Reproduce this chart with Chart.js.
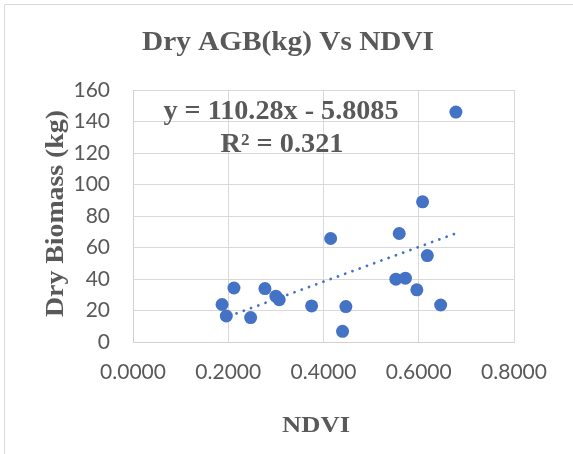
<!DOCTYPE html>
<html>
<head>
<meta charset="utf-8">
<script src="https://cdn.jsdelivr.net/npm/chart.js@4"></script>
<style>
  html, body { margin: 0; padding: 0; background: #ffffff; }
  #wrap { width: 573px; height: 454px; position: relative; }
</style>
</head>
<body>
<div id="wrap"><canvas id="c" width="573" height="454"></canvas></div>
<script>
// ---- data ----
const ndvi = [0.678, 0.608, 0.559, 0.415, 0.618, 0.552, 0.572, 0.596, 0.646, 0.447,
              0.440, 0.375, 0.277, 0.300, 0.307, 0.212, 0.187, 0.196, 0.247];
const dryBiomass = [146.0, 89.0, 68.9, 65.7, 54.9, 39.9, 40.5, 33.1, 23.5, 22.5,
                    6.8, 22.9, 33.9, 29.1, 26.9, 34.3, 23.8, 16.5, 15.5];
const trendSlope = 110.28;
const trendIntercept = -5.8085;
const xTickValues = [0, 0.2, 0.4, 0.6, 0.8];
const xTickLabels = ['0.0000', '0.2000', '0.4000', '0.6000', '0.8000'];
const yTickValues = [0, 20, 40, 60, 80, 100, 120, 140, 160];
const yTickLabels = ['0', '20', '40', '60', '80', '100', '120', '140', '160'];
const chartTitle = 'Dry AGB(kg) Vs NDVI';
const xTitle = 'NDVI';
const yTitle = 'Dry Biomass (kg)';
const equationLines = ['y = 110.28x - 5.8085', 'R\u00B2 = 0.321'];

// ---- derived ----
const points = ndvi.map((x, i) => ({ x: x, y: dryBiomass[i] }));
const xMin = Math.min(...ndvi), xMax = Math.max(...ndvi);
const trend = [
  { x: xMin, y: trendSlope * xMin + trendIntercept },
  { x: xMax, y: trendSlope * xMax + trendIntercept }
];

const TEXT = '#595959';
const GRID = '#d9d9d9';
const SERIF = '"Liberation Serif", "DejaVu Serif", serif';
const TICKFONT = 'Lato, "Open Sans", sans-serif';

// draw text centred at cx on baseline by, stretched horizontally to a target width
function fitText(ctx, text, cx, by, size, targetW) {
  ctx.save();
  ctx.font = 'bold ' + size + 'px ' + SERIF;
  const w = ctx.measureText(text).width;
  const s = targetW / w;
  ctx.translate(cx, by);
  ctx.scale(s, 1);
  ctx.textAlign = 'center';
  ctx.textBaseline = 'alphabetic';
  ctx.fillText(text, 0, 0);
  ctx.restore();
}

const decor = {
  id: 'decor',
  beforeDraw(chart) {
    const ctx = chart.ctx;
    ctx.save();
    ctx.fillStyle = '#ffffff';
    ctx.fillRect(0, 0, chart.width, chart.height);
    ctx.strokeStyle = GRID;
    ctx.lineWidth = 1;
    ctx.beginPath();
    ctx.moveTo(4.5, chart.height);
    ctx.lineTo(4.5, 4.5);
    ctx.lineTo(chart.width, 4.5);
    ctx.stroke();
    ctx.restore();
  },
  afterDraw(chart) {
    const ctx = chart.ctx;
    ctx.save();
    ctx.fillStyle = TEXT;
    fitText(ctx, chartTitle, 288, 50, 27, 292);
    fitText(ctx, equationLines[0], 281, 119, 27, 235);
    fitText(ctx, equationLines[1], 282, 151.5, 27, 123);
    fitText(ctx, xTitle, 316, 431.5, 23, 68);
    ctx.save();
    ctx.translate(62.5, 213.5);
    ctx.rotate(-Math.PI / 2);
    fitText(ctx, yTitle, 0, 0, 26, 207);
    ctx.restore();
    ctx.restore();
  }
};

new Chart(document.getElementById('c'), {
  type: 'scatter',
  data: {
    datasets: [
      {
        type: 'line',
        data: trend,
        borderColor: '#4472C4',
        borderWidth: 2.8,
        borderCapStyle: 'round',
        borderDash: [0.01, 7.7],
        pointRadius: 0,
        fill: false
      },
      {
        data: points,
        backgroundColor: '#4472C4',
        borderColor: '#4472C4',
        pointRadius: 6.5,
        pointBorderWidth: 0
      }
    ]
  },
  options: {
    responsive: false,
    animation: false,
    layout: { padding: { left: 0, top: 90, right: 59, bottom: 72 } },
    plugins: { legend: { display: false }, tooltip: { enabled: false }, title: { display: false } },
    scales: {
      x: {
        type: 'linear',
        min: 0, max: 0.8,
        afterBuildTicks(s) { s.ticks = xTickValues.map(v => ({ value: v })); },
        afterFit(s) { s.height = 40; },
        grid: { color: GRID, lineWidth: 1, drawTicks: false },
        border: { color: '#d0d0d0', width: 1 },
        ticks: {
          padding: 18,
          color: TEXT,
          font: { family: TICKFONT, size: 21 },
          callback: (v) => xTickLabels[xTickValues.findIndex(t => Math.abs(t - v) < 1e-9)]
        }
      },
      y: {
        type: 'linear',
        min: 0, max: 160,
        afterBuildTicks(s) { s.ticks = yTickValues.map(v => ({ value: v })); },
        afterFit(s) { s.width = 133; },
        grid: { color: GRID, lineWidth: 1, drawTicks: false },
        border: { color: '#d0d0d0', width: 1 },
        ticks: {
          padding: 23,
          color: TEXT,
          font: { family: TICKFONT, size: 21 },
          callback: (v) => yTickLabels[yTickValues.indexOf(v)]
        }
      }
    }
  },
  plugins: [decor]
});
</script>
</body>
</html>
